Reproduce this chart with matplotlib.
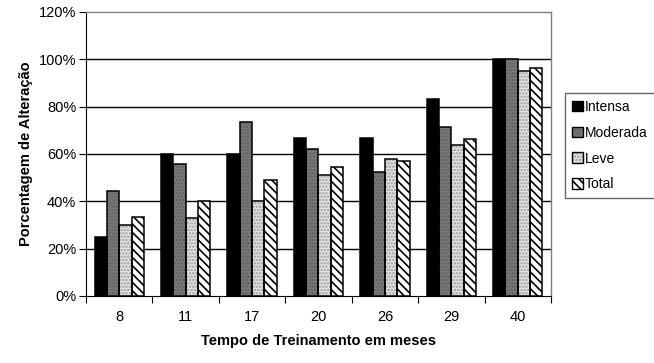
import matplotlib
matplotlib.use("Agg")
import matplotlib.pyplot as plt
import numpy as np
from matplotlib.patches import Patch
from matplotlib.ticker import FuncFormatter

plt.rcParams['font.family'] = ['Liberation Sans', 'DejaVu Sans']
plt.rcParams['hatch.linewidth'] = 1.2

# tempo de treinamento (meses) e porcentagem de alteração por grau
meses = ['8', '11', '17', '20', '26', '29', '40']
intensa = [25.0, 60.0, 60.0, 66.7, 66.7, 83.3, 100.0]
moderada = [44.4, 55.6, 73.7, 61.9, 52.4, 71.4, 100.0]
leve = [30.0, 33.0, 40.0, 51.0, 57.9, 63.9, 95.2]
total = [33.3, 40.0, 48.8, 54.7, 57.1, 66.5, 96.3]

series = [
    ('Intensa', intensa, dict(facecolor='black', hatch=None, hatchcolor='black')),
    ('Moderada', moderada, dict(facecolor='#7a7a7a', hatch='.....', hatchcolor='#5e5e5e')),
    ('Leve', leve, dict(facecolor='#e4e4e4', hatch='.....', hatchcolor='#9a9a9a')),
    ('Total', total, dict(facecolor='white', hatch='\\\\\\\\', hatchcolor='black')),
]

fig = plt.figure(figsize=(6.54, 3.63), dpi=100)
ax = fig.add_axes([0.1315, 0.1846, 0.711, 0.7824])

x = np.arange(len(meses))
w = 0.185
handles = []
for i, (nome, vals, st) in enumerate(series):
    pos = x + (i - 1.5) * w
    # fill layer (hatch drawn in its own colour), then black outline
    ax.bar(pos, vals, w, color=st['facecolor'], hatch=st['hatch'],
           edgecolor=st['hatchcolor'], linewidth=0, zorder=3)
    ax.bar(pos, vals, w, fill=False, edgecolor='black', linewidth=1.1, zorder=4)
    handles.append((Patch(facecolor=st['facecolor'], hatch=st['hatch'],
                          edgecolor=st['hatchcolor'], linewidth=0),
                    Patch(fill=False, edgecolor='black', linewidth=1.0)))

ax.set_ylim(0, 120)
ax.set_xlim(-0.5, len(meses) - 0.5)
ax.set_yticks(np.arange(0, 121, 20))
ax.yaxis.set_major_formatter(FuncFormatter(lambda v, p: f'{v:.0f}%'))
ax.set_xticks(x)
ax.set_xticklabels(meses)
ax.set_xticks(np.arange(-0.5, len(meses), 1), minor=True)
ax.tick_params(axis='x', which='major', length=0, pad=10, labelsize=10.5)
ax.tick_params(axis='x', which='minor', length=5, width=0.8, direction='out')
ax.tick_params(axis='y', length=5, width=0.8, direction='out', labelsize=10.5, pad=2)

for v in range(20, 120, 20):
    ax.axhline(v, color='black', linewidth=1.0, zorder=1)

for s in ['top', 'right']:
    ax.spines[s].set_color('#808080')
    ax.spines[s].set_linewidth(1.0)
ax.spines['left'].set_color('black')
ax.spines['bottom'].set_color('black')

ax.set_xlabel('Tempo de Treinamento em meses', fontsize=10.5, fontweight='bold', labelpad=7)
ax.set_ylabel('Porcentagem de Alteração', fontsize=10.5, fontweight='bold', labelpad=4)

leg = fig.legend(handles, [s[0] for s in series], loc='upper left',
                 bbox_to_anchor=(565 / 654, 1 - 93 / 363),
                 fontsize=10, frameon=True, fancybox=False, shadow=False,
                 handlelength=0.8, handleheight=0.8, handletextpad=0.15,
                 labelspacing=0.85, borderpad=0.5, borderaxespad=0)
leg.get_frame().set_edgecolor('#404040')
leg.get_frame().set_linewidth(1.0)

fig.savefig('out.png', dpi=100)
